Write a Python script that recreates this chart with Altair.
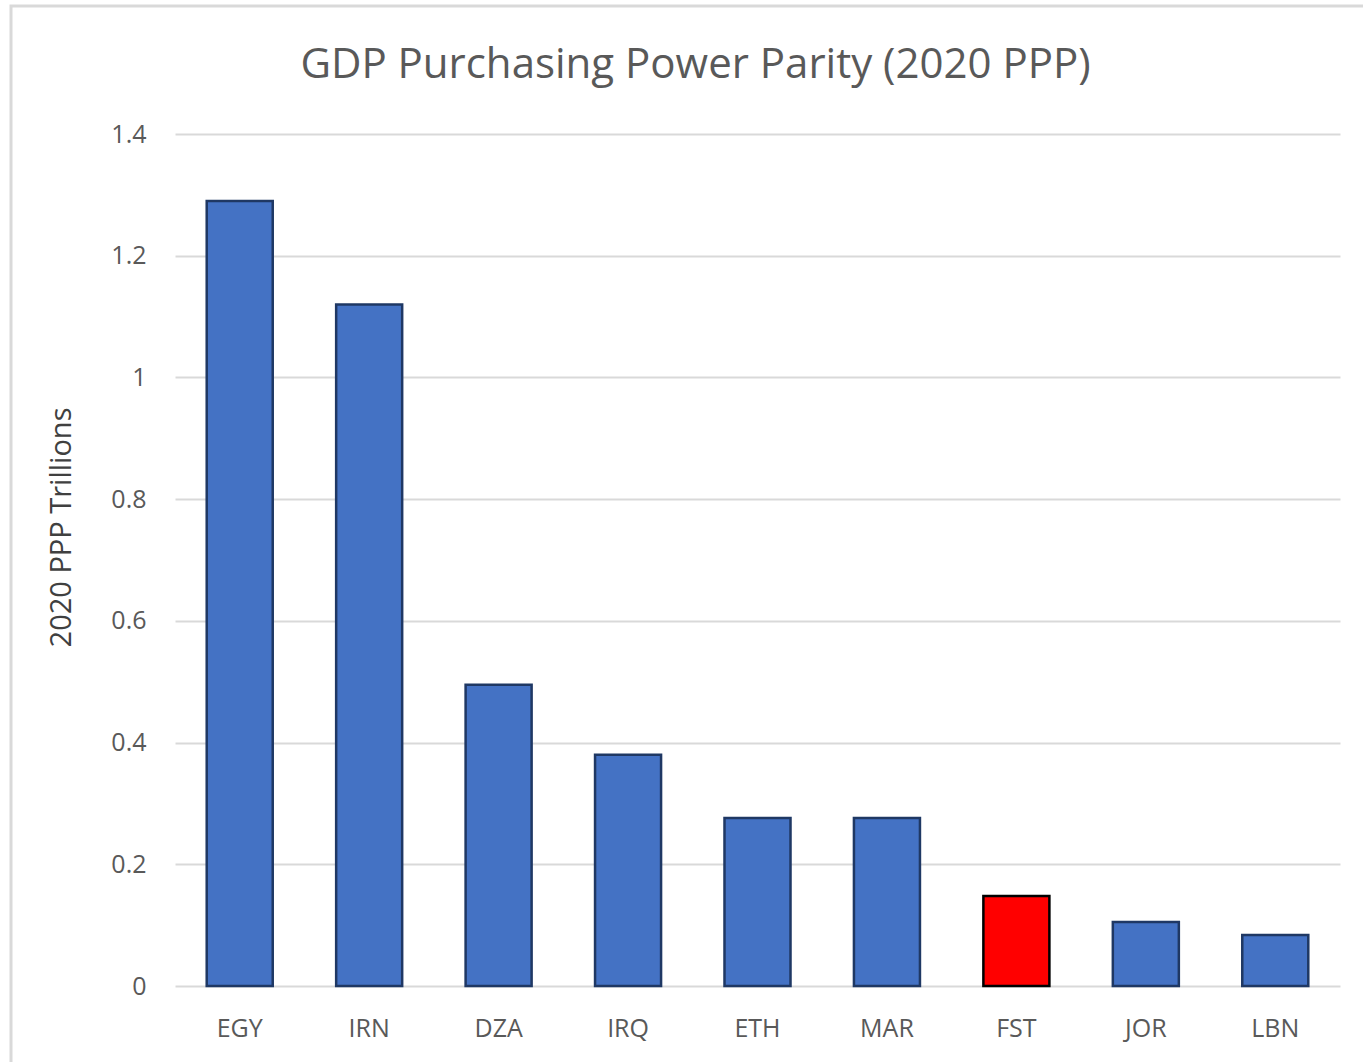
import altair as alt
import pandas as pd

# GDP at purchasing power parity, 2020, in trillions
countries = ["EGY", "IRN", "DZA", "IRQ", "ETH", "MAR", "FST", "JOR", "LBN"]
gdp_ppp = [1.29, 1.12, 0.495, 0.38, 0.276, 0.276, 0.148, 0.105, 0.084]
highlight = "FST"
y_ticks = [0, 0.2, 0.4, 0.6, 0.8, 1.0, 1.2, 1.4]

BLUE = "#4472C4"
BLUE_EDGE = "#1F3864"
RED = "#FF0000"
TEXT = "#595959"
GRID = "#D9D9D9"
FONT = "Open Sans"

df = pd.DataFrame({
    "country": countries,
    "gdp": gdp_ppp,
    "fill": [RED if c == highlight else BLUE for c in countries],
    "edge": ["#000000" if c == highlight else BLUE_EDGE for c in countries],
})

bars = alt.Chart(df).mark_bar(strokeWidth=2.5).encode(
    x=alt.X(
        "country:N",
        sort=countries,
        scale=alt.Scale(paddingInner=0.49, paddingOuter=0.245),
        axis=alt.Axis(
            title=None, labelAngle=0, labelFont=FONT, labelFontSize=25,
            labelColor=TEXT, labelPadding=30, ticks=False, domain=False, grid=False,
        ),
    ),
    y=alt.Y(
        "gdp:Q",
        scale=alt.Scale(domain=[0, 1.4], nice=False),
        axis=alt.Axis(
            values=y_ticks, format="~g", title="2020 PPP Trillions",
            titleFont=FONT, titleFontSize=29, titleFontWeight="normal", titleColor="#404040",
            titleY=393, titlePadding=34, labelFont=FONT, labelFontSize=25, labelColor=TEXT,
            labelPadding=29, ticks=False, domain=False,
            grid=True, gridColor=GRID, gridWidth=2,
        ),
    ),
    fill=alt.Fill("fill:N", scale=None),
    stroke=alt.Stroke("edge:N", scale=None),
)

# light outer frame around the whole chart
frame = alt.Chart(pd.DataFrame({"k": [0]})).mark_rect(
    fill=None, stroke=GRID, strokeWidth=3
).encode(
    x=alt.value(-164), x2=alt.value(1200), y=alt.value(-128), y2=alt.value(960)
)

chart = alt.layer(frame, bars).properties(
    width=1165,
    height=852,
    background="white",
    title=alt.TitleParams(
        "GDP Purchasing Power Parity (2020 PPP)",
        font=FONT, fontSize=42, fontWeight="normal", color=TEXT,
        anchor="middle", dx=-62, offset=0, baseline="alphabetic", dy=115,
    ),
    autosize=alt.AutoSizeParams(type="none"),
    padding={"left": 175, "top": 134, "right": 23, "bottom": 76},
).configure_view(strokeWidth=0)

chart.save("out.html", embed_options={"renderer": "svg", "actions": False})
